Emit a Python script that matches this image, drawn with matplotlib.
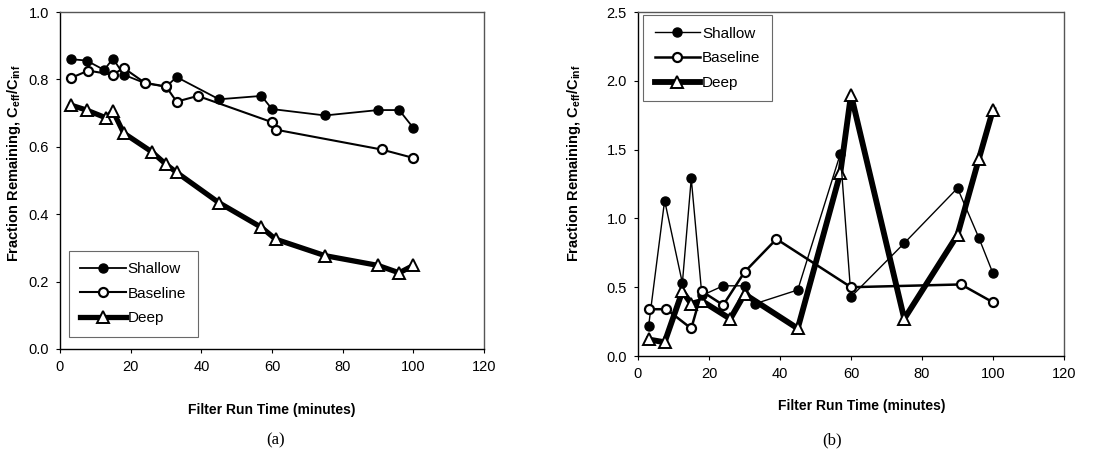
import matplotlib
matplotlib.use("Agg")
import matplotlib.pyplot as plt

plt.rcParams["font.family"] = ["Liberation Sans", "DejaVu Sans"]
plt.rcParams["mathtext.fontset"] = "custom"
plt.rcParams["mathtext.rm"] = "Liberation Sans:bold"
plt.rcParams["mathtext.bf"] = "Liberation Sans:bold"

# -----------------------------
# Data (a)
# -----------------------------
shallow_a_t = [3, 7.5, 12.5, 15, 18, 24, 30, 33, 45, 57, 60, 75, 90, 96, 100]
shallow_a = [0.86, 0.856, 0.828, 0.862, 0.814, 0.789, 0.778, 0.807, 0.741, 0.751, 0.712, 0.693, 0.709, 0.709, 0.656]

baseline_a_t = [3, 8, 15, 18, 24, 30, 33, 39, 60, 61, 91, 100]
baseline_a = [0.804, 0.826, 0.814, 0.834, 0.79, 0.779, 0.734, 0.751, 0.673, 0.651, 0.592, 0.567]

deep_a_t = [3, 7.5, 13, 15, 18, 26, 30, 33, 45, 57, 61, 75, 90, 96, 100]
deep_a = [0.724, 0.709, 0.686, 0.706, 0.641, 0.585, 0.548, 0.524, 0.434, 0.361, 0.326, 0.277, 0.248, 0.226, 0.248]

# -----------------------------
# Data (b)
# -----------------------------
shallow_b_t = [3, 7.5, 12.5, 15, 18, 24, 30, 33, 45, 57, 60, 75, 90, 96, 100]
shallow_b = [0.22, 1.13, 0.53, 1.29, 0.44, 0.51, 0.51, 0.38, 0.48, 1.47, 0.43, 0.82, 1.22, 0.86, 0.60]

baseline_b_t = [3, 8, 15, 18, 24, 30, 39, 60, 91, 100]
baseline_b = [0.34, 0.34, 0.20, 0.47, 0.37, 0.61, 0.85, 0.50, 0.52, 0.39]

deep_b_t = [3, 7.5, 12.5, 15, 18, 26, 30, 45, 57, 60, 75, 90, 96, 100]
deep_b = [0.12, 0.10, 0.47, 0.38, 0.40, 0.27, 0.45, 0.20, 1.33, 1.90, 0.27, 0.88, 1.43, 1.79]

x_ticks = [0, 20, 40, 60, 80, 100, 120]
ylabel = r"Fraction Remaining, C$_{\mathbf{eff}}$/C$_{\mathbf{inf}}$"
xlabel = "Filter Run Time (minutes)"


def style_axes(ax, ymax, ystep):
    ax.set_xlim(0, 120)
    ax.set_ylim(0, ymax)
    ax.set_xticks(x_ticks)
    n = int(round(ymax / ystep))
    ax.set_yticks([i * ystep for i in range(n + 1)])
    ax.yaxis.set_major_formatter(matplotlib.ticker.FormatStrFormatter("%.1f"))
    ax.tick_params(direction="out", length=3, width=0.8, labelsize=10.5, pad=5)
    for side in ["left", "bottom"]:
        ax.spines[side].set_linewidth(1.0)
        ax.spines[side].set_color("black")
    for side in ["top", "right"]:
        ax.spines[side].set_linewidth(1.0)
        ax.spines[side].set_color("#555555")
        ax.spines[side].set_linestyle((0, (1.5, 1)))
    ax.set_xlabel(xlabel, fontsize=10, fontweight="bold")
    ax.set_ylabel(ylabel, fontsize=10.5, fontweight="bold")


def draw_series(ax, sh_t, sh, ba_t, ba, de_t, de, lws):
    ax.plot(sh_t, sh, color="black", lw=lws[0], marker="o", ms=6.5,
            mfc="black", mec="black", label="Shallow", zorder=3)
    ax.plot(ba_t, ba, color="black", lw=lws[1], marker="o", ms=6.5,
            mfc="white", mec="black", mew=1.6, label="Baseline", zorder=4)
    ax.plot(de_t, de, color="black", lw=lws[2], marker="^", ms=8.5,
            mfc="white", mec="black", mew=1.4, label="Deep", zorder=2)


def add_legend(ax, loc, anchor):
    leg = ax.legend(loc=loc, bbox_to_anchor=anchor, fontsize=11,
                    frameon=True, fancybox=False, handlelength=3.0,
                    handletextpad=0.1, labelspacing=0.7,
                    borderaxespad=0, borderpad=0.75)
    leg.get_frame().set_edgecolor("#444444")
    leg.get_frame().set_linewidth(0.8)
    return leg


fig = plt.figure(figsize=(11.09, 4.59), dpi=100)
ax_a = fig.add_axes([60 / 1109, 1 - 349 / 459, 424 / 1109, 337 / 459])
ax_b = fig.add_axes([638 / 1109, 1 - 356 / 459, 426 / 1109, 344 / 459])

# (a)
draw_series(ax_a, shallow_a_t, shallow_a, baseline_a_t, baseline_a,
            deep_a_t, deep_a, (1.3, 1.5, 3.8))
style_axes(ax_a, 1.0, 0.2)
ax_a.xaxis.set_label_coords(0.5, -0.16)
ax_a.yaxis.set_label_coords(-0.088, 0.55)
add_legend(ax_a, "lower left", (0.021, 0.036))

# (b)
draw_series(ax_b, shallow_b_t, shallow_b, baseline_b_t, baseline_b,
            deep_b_t, deep_b, (1.0, 1.8, 4.2))
style_axes(ax_b, 2.5, 0.5)
ax_b.xaxis.set_label_coords(0.526, -0.125)
ax_b.yaxis.set_label_coords(-0.13, 0.56)
add_legend(ax_b, "upper left", (0.012, 0.991))

# Captions
fig.text(276 / 1109, 1 - 440 / 459, "(a)", family="Liberation Serif",
         fontsize=12, ha="center", va="center")
fig.text(832 / 1109, 1 - 440 / 459, "(b)", family="Liberation Serif",
         fontsize=12, ha="center", va="center")

fig.savefig("out.png", dpi=100)
plt.close(fig)
